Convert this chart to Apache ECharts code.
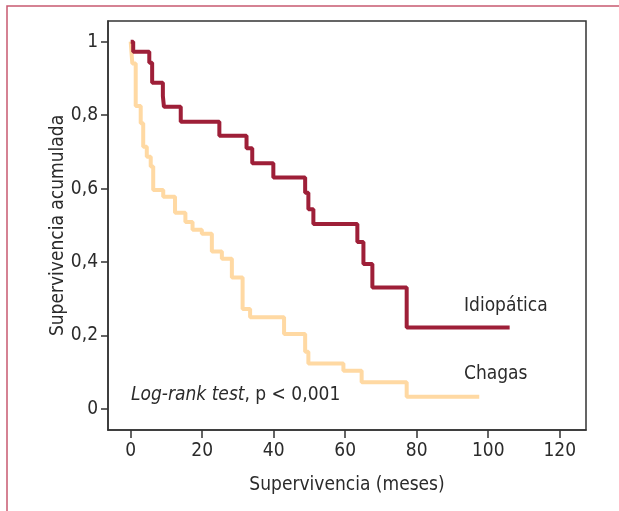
<!DOCTYPE html>
<html>
<head>
<meta charset="utf-8">
<script src="https://cdn.jsdelivr.net/npm/echarts@6/dist/echarts.min.js"></script>
<style>
  html, body { margin: 0; padding: 0; background: #fff; }
  #chart { width: 619px; height: 511px; }
</style>
</head>
<body>
<div id="chart"></div>
<script>
// Kaplan-Meier curves (months, cumulative survival)
const idioTime = [0, 0.7, 5.2, 6.0, 9.0, 9.3, 14.0, 24.8, 32.4, 34.0, 39.9, 48.8, 49.7, 51.1, 63.4, 65.1, 67.6, 77.2, 106.0];
const idioSurv = [1, 0.973, 0.943, 0.888, 0.852, 0.823, 0.782, 0.744, 0.710, 0.669, 0.630, 0.589, 0.544, 0.504, 0.455, 0.395, 0.331, 0.222, 0.222];

const chagasTime = [0, 0.45, 1.4, 2.8, 3.5, 4.5, 5.6, 6.3, 9.1, 12.4, 15.3, 17.3, 19.9, 22.7, 25.5, 28.3, 31.3, 33.4, 42.9, 48.8, 49.7, 59.5, 64.6, 77.2, 97.5];
const chagasSurv = [1, 0.941, 0.825, 0.778, 0.714, 0.687, 0.660, 0.596, 0.578, 0.534, 0.509, 0.488, 0.477, 0.429, 0.409, 0.358, 0.272, 0.250, 0.204, 0.156, 0.124, 0.104, 0.073, 0.033, 0.033];

const xTicks = [0, 20, 40, 60, 80, 100, 120];
const yTicks = [0, 0.2, 0.4, 0.6, 0.8, 1];

const FONT = "'DejaVu Sans Condensed', 'Liberation Sans', sans-serif";
const FS = 19;
const TEXT = '#2b2b2b';
const AXIS = { color: '#333', width: 1.5 };

function pairs(xs, ys) {
  return xs.map((x, i) => [x, ys[i]]);
}

const chart = echarts.init(document.getElementById('chart'), null, { renderer: 'canvas' });

chart.setOption({
  animation: false,
  backgroundColor: '#fff',
  grid: {
    show: true,
    left: 108, top: 21, width: 478, height: 409,
    borderColor: '#333', borderWidth: 1.5,
    containLabel: false
  },
  xAxis: {
    type: 'value',
    min: -6.35, max: 127.36,
    name: 'Supervivencia (meses)',
    nameLocation: 'middle',
    nameGap: 46,
    nameMoveOverlap: false,
    nameTextStyle: { fontFamily: FONT, fontSize: FS, color: TEXT },
    axisLine: { show: true, onZero: false, lineStyle: AXIS },
    splitLine: { show: false },
    axisTick: { show: true, inside: false, length: 8, customValues: xTicks, lineStyle: AXIS },
    axisLabel: { customValues: xTicks, margin: 12, fontFamily: FONT, fontSize: FS, color: TEXT }
  },
  yAxis: {
    type: 'value',
    min: -0.0572, max: 1.0564,
    name: 'Supervivencia acumulada',
    nameLocation: 'middle',
    nameGap: 40,
    nameMoveOverlap: false,
    nameTextStyle: { fontFamily: FONT, fontSize: FS, color: TEXT },
    axisLine: { show: true, onZero: false, lineStyle: AXIS },
    splitLine: { show: false },
    axisTick: { show: true, inside: false, length: 7, customValues: yTicks, lineStyle: AXIS },
    axisLabel: {
      customValues: yTicks, margin: 10, fontFamily: FONT, fontSize: FS, color: TEXT,
      formatter: v => String(Math.round(v * 10) / 10).replace('.', ',')
    }
  },
  series: [
    {
      name: 'Chagas',
      type: 'line',
      step: 'end',
      data: pairs(chagasTime, chagasSurv),
      showSymbol: false,
      lineStyle: { color: '#ffd9a3', width: 4 },
      z: 2
    },
    {
      name: 'Idiopática',
      type: 'line',
      step: 'end',
      data: pairs(idioTime, idioSurv),
      showSymbol: false,
      lineStyle: { color: '#9e1f38', width: 4 },
      z: 3
    }
  ],
  graphic: [
    // outer frame, right and bottom sides run off the picture
    { type: 'rect', shape: { x: 7, y: 6, width: 700, height: 600 }, style: { fill: 'none', stroke: '#c75a70', lineWidth: 1.5 }, silent: true },
    { type: 'text', left: 464, top: 297, style: { text: 'Idiopática', font: FS + 'px ' + FONT, fill: TEXT } },
    { type: 'text', left: 464, top: 365, style: { text: 'Chagas', font: FS + 'px ' + FONT, fill: TEXT } },
    {
      type: 'text', left: 131, top: 386,
      style: {
        text: '{i|Log-rank test}{n|, p < 0,001}',
        rich: {
          i: { fontStyle: 'italic', fontFamily: FONT, fontSize: FS, fill: TEXT },
          n: { fontFamily: FONT, fontSize: FS, fill: TEXT }
        }
      }
    }
  ]
});
</script>
</body>
</html>
